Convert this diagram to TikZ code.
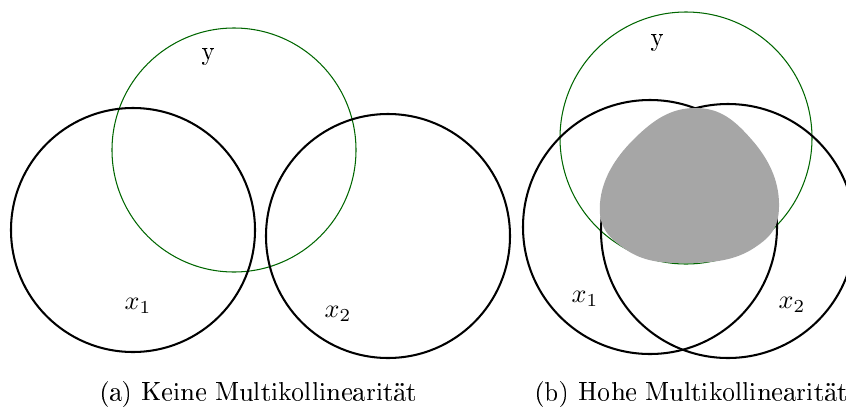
\documentclass[tikz,border=0pt]{standalone}
\usepackage[T1]{fontenc}
\begin{document}
\begin{tikzpicture}[x=0.382pt, y=-0.382pt, every node/.style={font=\normalsize}]
  \tikzset{
    varset/.style={line width=0.78pt, black},
    ysetc/.style={line width=0.4pt, green!40!black},
    overlap/.style={fill=black!35},
  }
  \useasboundingbox (0,0) rectangle (846,414);
  % (a) no overlap between x_1 and x_2
  \draw[ysetc] (234,150) circle (122);
  \draw[varset] (133,230) circle (122);
  \draw[varset] (388,236) circle (122);
  \node (ya) at (208,56) {y};
  \node (xa1) at (138,306) {$x_1$};
  \node (xa2) at (338,314) {$x_2$};
  \node (capa) at (258,394) {(a) Keine Multikollinearität};
  % (b) strong overlap, shared part filled
  \draw[ysetc] (686,138) circle (126);
  \draw[varset] (650,227) circle (127);
  \draw[varset] (728,231) circle (127);
  \fill[overlap] plot[smooth cycle, tension=0.75] coordinates {
    (696,108) (752,140) (779,203) (754,248) (687,263)
    (625,249) (600,203) (634,139)};
  \node (yb) at (657,42) {y};
  \node (xb1) at (585,299) {$x_1$};
  \node (xb2) at (792,305) {$x_2$};
  \node (capb) at (691,394) {(b) Hohe Multikollinearität};
\end{tikzpicture}
\end{document}
